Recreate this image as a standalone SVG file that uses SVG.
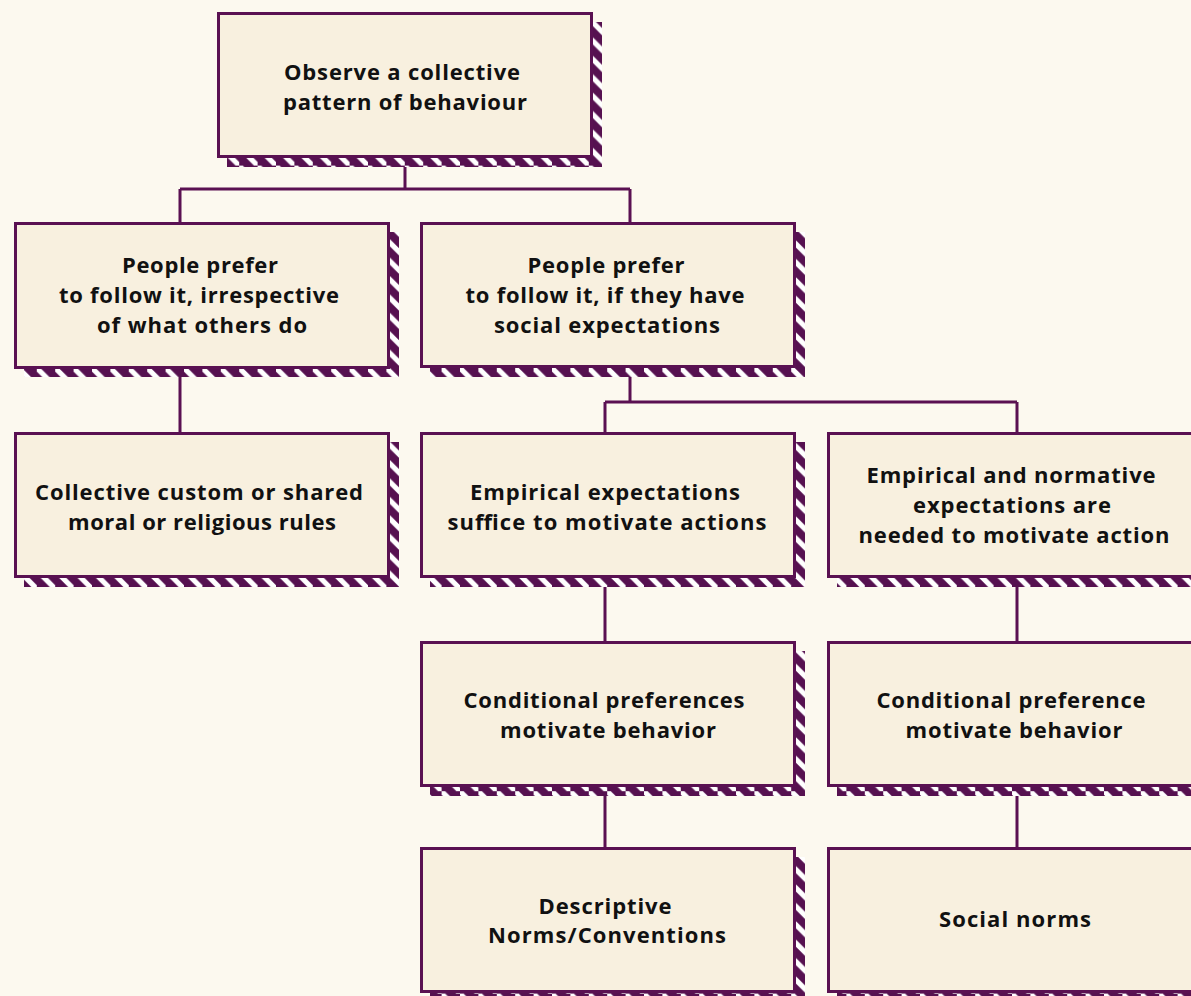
<svg xmlns="http://www.w3.org/2000/svg" width="1191" height="996" viewBox="0 0 1191 996">
<style>
.bg{fill:#FCF9EF}
.box{fill:#F8F0DF;stroke:#5A1152;stroke-width:3}
.shadow{fill:url(#hatch)}
.conn{fill:none;stroke:#5A1152;stroke-width:3}
.t{font-family:"Open Sans","Liberation Sans",sans-serif;font-weight:700;font-size:22px;fill:#111111;text-anchor:middle}
</style>
<defs>
<pattern id="hatch" patternUnits="userSpaceOnUse" x="0" y="0" width="18.4" height="18.4">
<rect width="18.4" height="18.4" fill="#561150"/>
<polygon points="0,0 3.6,0 18.4,14.8 18.4,18.4 14.8,18.4 0,3.6" fill="#FFFFFF"/>
</pattern>
</defs>
<rect class="bg" x="0" y="0" width="1191" height="996"/>
<g id="connectors">
<path class="conn" d="M405 158 V189 M180 189 H630 M180 189 V222 M630 189 V222"/>
<path class="conn" d="M180 369 V433"/>
<path class="conn" d="M630 368 V402 M605 402 H1017 M605 402 V433 M1017 402 V433"/>
<path class="conn" d="M605 578 V641 M1017 578 V641"/>
<path class="conn" d="M605 787 V847 M1017 787 V847"/>
</g>
<g id="n_observe">
<rect class="shadow" x="227" y="22" width="375" height="145"/>
<rect class="box" x="218.5" y="13.5" width="373" height="143"/>
<text class="t" x="402" y="80" textLength="236">Observe a collective</text>
<text class="t" x="405" y="110" textLength="244">pattern of behaviour</text>
</g>
<g id="n_irrespective">
<rect class="shadow" x="24" y="232" width="375" height="145"/>
<rect class="box" x="15.5" y="223.5" width="373" height="144"/>
<text class="t" x="200" y="273" textLength="156">People prefer</text>
<text class="t" x="199" y="303" textLength="280">to follow it, irrespective</text>
<text class="t" x="202" y="333" textLength="210">of what others do</text>
</g>
<g id="n_social_exp">
<rect class="shadow" x="430" y="232" width="375" height="145"/>
<rect class="box" x="421.5" y="223.5" width="373" height="143"/>
<text class="t" x="606" y="273" textLength="157">People prefer</text>
<text class="t" x="605" y="303" textLength="279">to follow it, if they have</text>
<text class="t" x="607" y="333" textLength="226">social expectations</text>
</g>
<g id="n_custom">
<rect class="shadow" x="24" y="442" width="375" height="145"/>
<rect class="box" x="15.5" y="433.5" width="373" height="143"/>
<text class="t" x="199" y="500" textLength="328">Collective custom or shared</text>
<text class="t" x="202" y="530" textLength="268">moral or religious rules</text>
</g>
<g id="n_empirical">
<rect class="shadow" x="430" y="442" width="375" height="145"/>
<rect class="box" x="421.5" y="433.5" width="373" height="143"/>
<text class="t" x="605" y="500" textLength="270">Empirical expectations</text>
<text class="t" x="607" y="530" textLength="319">suffice to motivate actions</text>
</g>
<g id="n_normative">
<rect class="shadow" x="837" y="442" width="375" height="145"/>
<rect class="box" x="828.5" y="433.5" width="373" height="143"/>
<text class="t" x="1011" y="483" textLength="289">Empirical and normative</text>
<text class="t" x="1012" y="513" textLength="198">expectations are</text>
<text class="t" x="1014" y="543" textLength="311">needed to motivate action</text>
</g>
<g id="n_cond_prefs">
<rect class="shadow" x="430" y="651" width="375" height="145"/>
<rect class="box" x="421.5" y="642.5" width="373" height="143"/>
<text class="t" x="604" y="708" textLength="281">Conditional preferences</text>
<text class="t" x="608" y="738" textLength="216">motivate behavior</text>
</g>
<g id="n_cond_pref">
<rect class="shadow" x="837" y="651" width="375" height="145"/>
<rect class="box" x="828.5" y="642.5" width="373" height="143"/>
<text class="t" x="1011" y="708" textLength="269">Conditional preference</text>
<text class="t" x="1014" y="738" textLength="217">motivate behavior</text>
</g>
<g id="n_descriptive">
<rect class="shadow" x="430" y="857" width="375" height="145"/>
<rect class="box" x="421.5" y="848.5" width="373" height="143"/>
<text class="t" x="605" y="914" textLength="133">Descriptive</text>
<text class="t" x="607" y="943" textLength="238">Norms/Conventions</text>
</g>
<g id="n_social_norms">
<rect class="shadow" x="837" y="857" width="375" height="145"/>
<rect class="box" x="828.5" y="848.5" width="373" height="143"/>
<text class="t" x="1015" y="927" textLength="152">Social norms</text>
</g>
</svg>
